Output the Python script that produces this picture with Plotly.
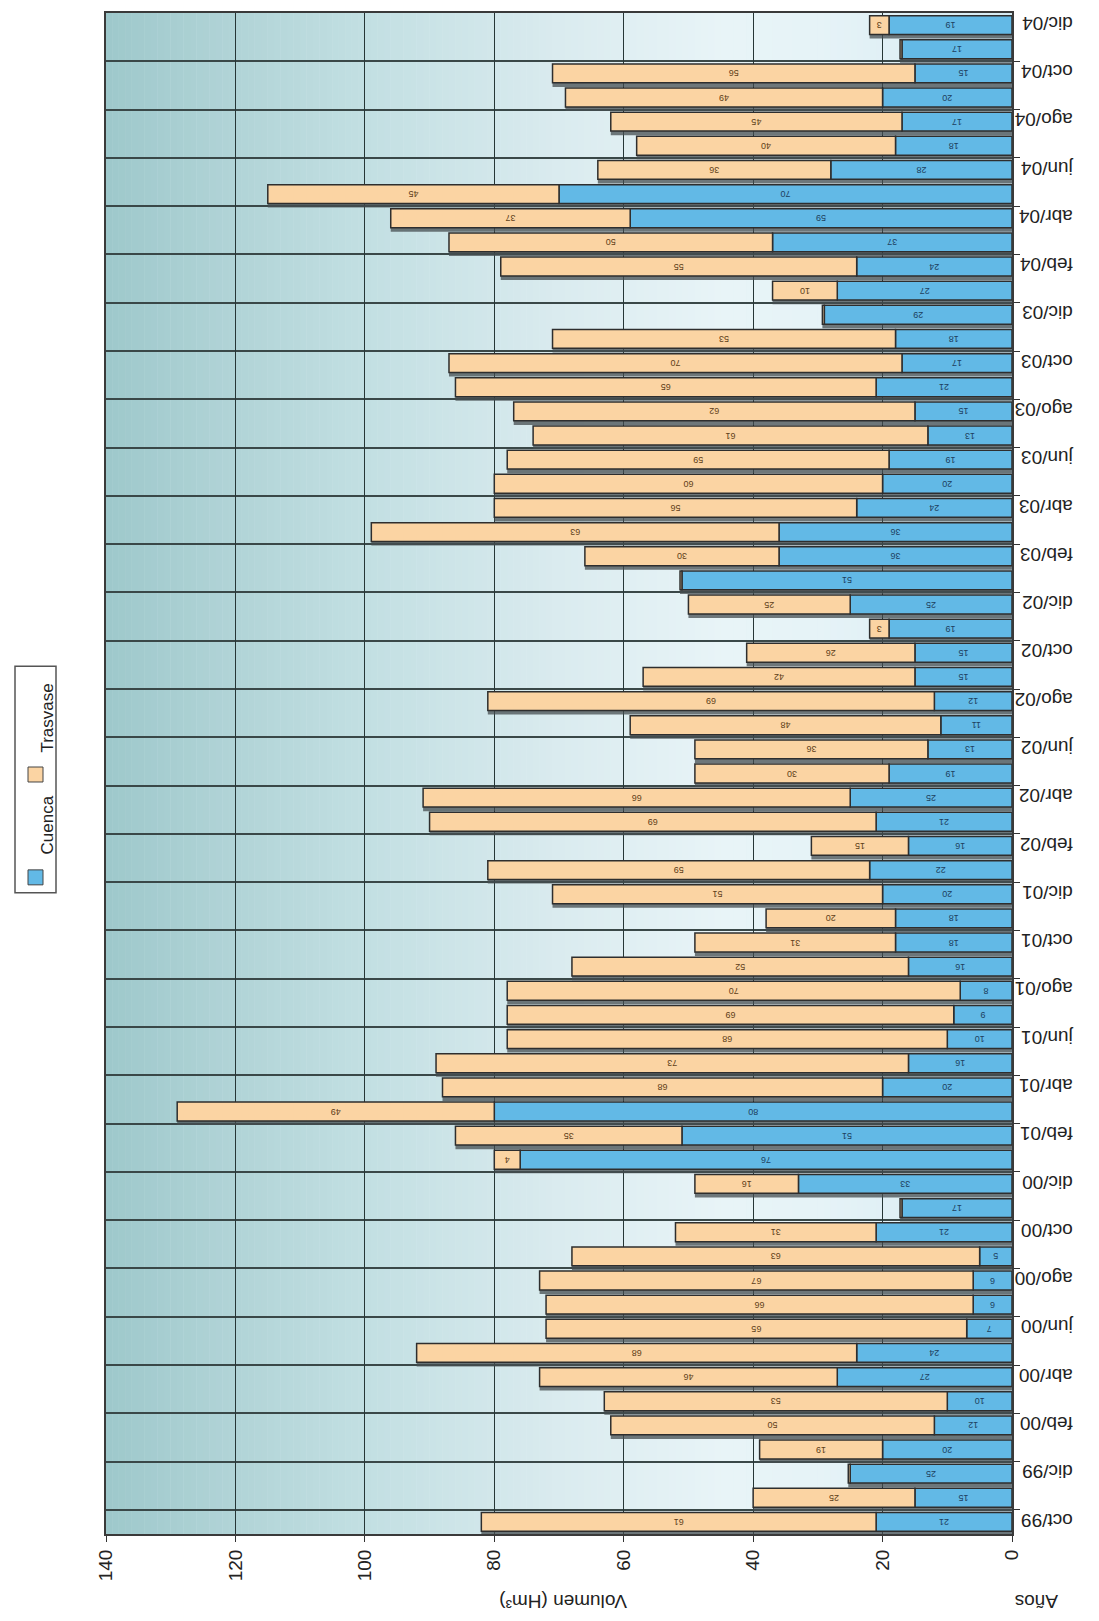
import plotly.graph_objects as go

# ---------------- data ----------------
months = [
    "oct/99", "nov/99", "dic/99",
    "ene/00", "feb/00", "mar/00", "abr/00", "may/00", "jun/00", "jul/00", "ago/00", "sep/00", "oct/00", "nov/00", "dic/00",
    "ene/01", "feb/01", "mar/01", "abr/01", "may/01", "jun/01", "jul/01", "ago/01", "sep/01", "oct/01", "nov/01", "dic/01",
    "ene/02", "feb/02", "mar/02", "abr/02", "may/02", "jun/02", "jul/02", "ago/02", "sep/02", "oct/02", "nov/02", "dic/02",
    "ene/03", "feb/03", "mar/03", "abr/03", "may/03", "jun/03", "jul/03", "ago/03", "sep/03", "oct/03", "nov/03", "dic/03",
    "ene/04", "feb/04", "mar/04", "abr/04", "may/04", "jun/04", "jul/04", "ago/04", "sep/04", "oct/04", "nov/04", "dic/04",
]
cuenca = [
    21, 15, 25,
    20, 12, 10, 27, 24, 7, 6, 6, 5, 21, 17, 33,
    76, 51, 80, 20, 16, 10, 9, 8, 16, 18, 18, 20,
    22, 16, 21, 25, 19, 13, 11, 12, 15, 15, 19, 25,
    51, 36, 36, 24, 20, 19, 13, 15, 21, 17, 18, 29,
    27, 24, 37, 59, 70, 28, 18, 17, 20, 15, 17, 19,
]
trasvase = [
    61, 25, 0.3,
    19, 50, 53, 46, 68, 65, 66, 67, 63, 31, 0.3, 16,
    4, 35, 49, 68, 73, 68, 69, 70, 52, 31, 20, 51,
    59, 15, 69, 66, 30, 36, 48, 69, 42, 26, 3, 25,
    0.3, 30, 63, 56, 60, 59, 61, 62, 65, 70, 53, 0.3,
    10, 55, 50, 37, 45, 36, 40, 45, 49, 56, 0.3, 3,
]
value_ticks = [0, 20, 40, 60, 80, 100, 120, 140]
series_names = ["Cuenca", "Trasvase"]
axis_title = "Volumen (Hm³)"
cat_title = "Años"

# ---------------- geometry helpers ----------------
W, H = 1099, 1621
ML, MR, MT, MB = 98, 95, 3, 95
PW, PH = W - ML - MR, H - MT - MB


def px_x(x):
    return (x - ML) / PW


def px_y(y):
    return (H - MB - y) / PH


idx = list(range(len(months)))
total = [c + t for c, t in zip(cuenca, trasvase)]

BLUE = "#62b9e6"
ORANGE = "#fbd4a3"
EDGE = "#2e2e2e"
FONT = "Liberation Sans, Arial, sans-serif"

fig = go.Figure()

# shadow beneath each bar
fig.add_trace(go.Bar(
    orientation="h", y=idx, x=total, base=0,
    width=0.8, offset=-0.56,
    marker=dict(color="rgba(70,78,80,0.75)", line=dict(width=0)),
    hoverinfo="skip", showlegend=False,
))
fig.add_trace(go.Bar(
    orientation="h", y=idx, x=cuenca, base=0, name=series_names[0],
    width=0.78,
    marker=dict(color=BLUE, line=dict(color=EDGE, width=1.5)),
    text=[str(v) if v >= 1 else "" for v in cuenca],
    textposition="inside", insidetextanchor="middle", textangle=180,
    textfont=dict(size=9, color="#1d3f5e", family=FONT),
    constraintext="none", showlegend=False,
))
fig.add_trace(go.Bar(
    orientation="h", y=idx, x=trasvase, base=cuenca, name=series_names[1],
    width=0.78,
    marker=dict(color=ORANGE, line=dict(color=EDGE, width=1.5)),
    text=[str(v) if v >= 1 else "" for v in trasvase],
    textposition="inside", insidetextanchor="middle", textangle=180,
    textfont=dict(size=9, color="#5e3e18", family=FONT),
    constraintext="none", showlegend=False,
))

# background gradient (styling only)
stops = [(0, (214, 235, 243)), (30, (230, 243, 247)), (45, (232, 244, 247)),
         (70, (218, 235, 239)), (100, (194, 223, 226)), (120, (177, 212, 215)),
         (140, (158, 200, 203))]


def grad(v):
    for (a, ca), (b, cb) in zip(stops[:-1], stops[1:]):
        if a <= v <= b:
            t = (v - a) / (b - a)
            return "rgb(%d,%d,%d)" % tuple(round(ca[i] + (cb[i] - ca[i]) * t) for i in range(3))
    return "rgb(%d,%d,%d)" % stops[-1][1]


shapes = []
step = 1.0
v = 0.0
while v < 140:
    shapes.append(dict(type="rect", xref="x", yref="paper", x0=v, x1=v + step + 0.05,
                       y0=0, y1=1, fillcolor=grad(v + step / 2), line=dict(width=0),
                       layer="below"))
    v += step

# legend drawn manually (vertical text)
shapes.append(dict(type="rect", xref="paper", yref="paper",
                   x0=px_x(7), x1=px_x(48), y0=px_y(884), y1=px_y(657),
                   fillcolor="white", line=dict(color="#555", width=1.5)))
shapes.append(dict(type="rect", xref="paper", yref="paper",
                   x0=px_x(20), x1=px_x(35), y0=px_y(876), y1=px_y(861),
                   fillcolor=BLUE, line=dict(color="#444", width=1)))
shapes.append(dict(type="rect", xref="paper", yref="paper",
                   x0=px_x(20), x1=px_x(35), y0=px_y(773), y1=px_y(758),
                   fillcolor=ORANGE, line=dict(color="#444", width=1)))

annotations = [
    dict(text=series_names[0], xref="paper", yref="paper", x=px_x(28), y=px_y(816),
         textangle=-90, showarrow=False, font=dict(size=17, color="#222", family=FONT)),
    dict(text=series_names[1], xref="paper", yref="paper", x=px_x(28), y=px_y(709),
         textangle=-90, showarrow=False, font=dict(size=17, color="#222", family=FONT)),
    dict(text=axis_title, xref="paper", yref="paper", x=px_x(555), y=px_y(1606),
         textangle=180, showarrow=False, font=dict(size=19, color="#222", family=FONT)),
    dict(text=cat_title, xref="paper", yref="paper", x=px_x(1052), y=px_y(1606),
         textangle=180, showarrow=False, font=dict(size=19, color="#222", family=FONT)),
]

minor_vals = [i - 0.5 for i in range(1, len(months), 2)]

fig.update_layout(
    width=W, height=H,
    margin=dict(l=ML, r=MR, t=MT, b=MB),
    paper_bgcolor="white", plot_bgcolor="#e3f1f5",
    barmode="overlay",
    shapes=shapes, annotations=annotations,
    showlegend=False,
    xaxis=dict(
        range=[140, 0], tickvals=value_ticks, ticktext=[str(t) for t in value_ticks],
        tickangle=-90, ticks="outside", ticklen=6, tickcolor="#333",
        tickfont=dict(size=19, color="#222", family=FONT),
        showgrid=True, gridcolor="#263636", gridwidth=1.2,
        showline=True, linecolor="#3a3a3a", linewidth=2, mirror=True,
        zeroline=False,
    ),
    yaxis=dict(
        range=[-0.5, len(months) - 0.5], side="right",
        tickmode="array", tickvals=idx[::2], ticktext=months[::2],
        tickangle=180, ticks="", showgrid=False,
        ticklabelstandoff=55, ticklabelshift=4,
        tickfont=dict(size=19, color="#222", family=FONT),
        showline=True, linecolor="#3a3a3a", linewidth=2, mirror=True,
        zeroline=False,
        minor=dict(tickmode="array", tickvals=minor_vals, ticks="outside", ticklen=6,
                   tickcolor="#333", showgrid=True, gridcolor="#3a4848", gridwidth=1.5),
    ),
)

fig.write_html("out.html")
